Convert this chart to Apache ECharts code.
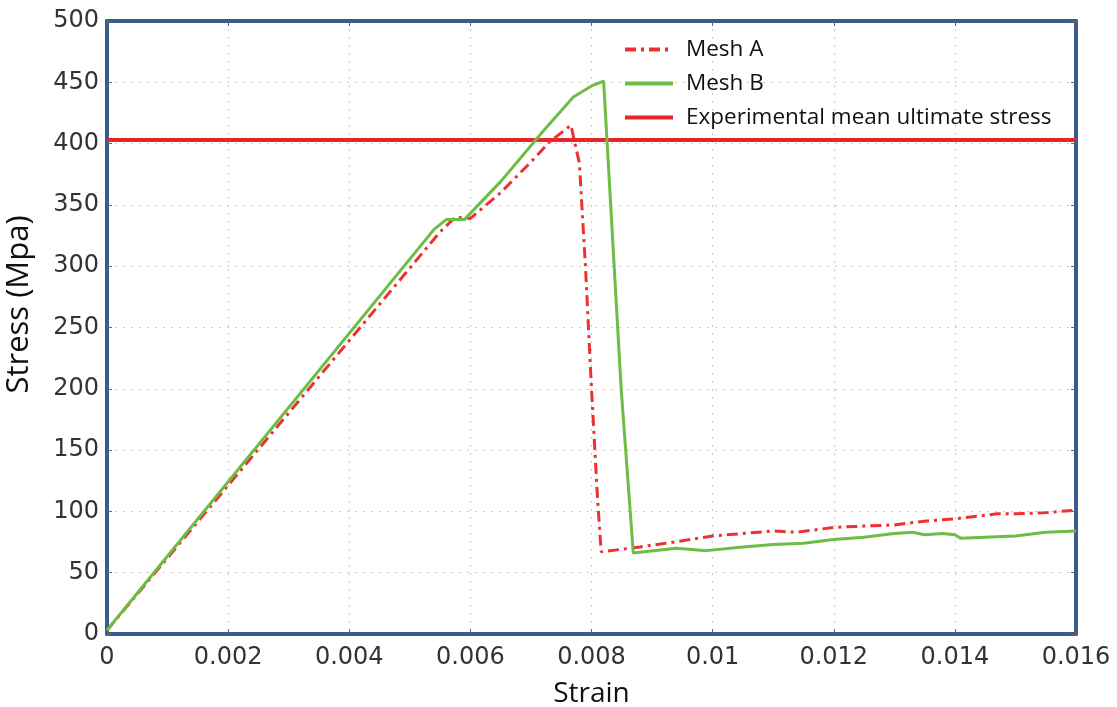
<!DOCTYPE html>
<html>
<head>
<meta charset="utf-8">
<title>Stress - Strain</title>
<script src="https://cdn.jsdelivr.net/npm/echarts@6/dist/echarts.min.js"></script>
<style>
  html, body { margin: 0; padding: 0; background: #fff; }
  #main { width: 1117px; height: 707px; }
</style>
</head>
<body>
<div id="main"></div>
<script>
// data
var strainA = [0, 0.0055, 0.00575, 0.006, 0.0065, 0.007, 0.0073, 0.00766, 0.0078, 0.0079, 0.008, 0.0081, 0.00816,
  0.0088, 0.0095, 0.01, 0.0105, 0.011, 0.0114, 0.012, 0.0125, 0.013, 0.0135, 0.014, 0.0147, 0.015, 0.0155, 0.016];
var stressA = [3, 328, 340, 339, 360, 385, 401, 415, 384, 300, 200, 110, 67,
  71, 76, 80, 82, 84, 83, 87, 88, 89, 92, 94, 98, 98, 99, 101];

var strainB = [0, 0.0054, 0.0056, 0.0059, 0.0065, 0.0072, 0.0077, 0.008, 0.0082, 0.00849, 0.00869,
  0.0094, 0.0099, 0.0105, 0.011, 0.0115, 0.012, 0.0125, 0.013, 0.0133, 0.0135, 0.0138, 0.014, 0.0141, 0.0145, 0.015, 0.0155, 0.016];
var stressB = [3, 330, 338, 338, 369, 410, 438, 447, 451, 200, 66,
  70, 68, 71, 73, 74, 77, 79, 82, 83, 81, 82, 81, 78, 79, 80, 83, 84];

var expStrain = [0, 0.016];
var expStress = [403, 403];

var xTicks = ['0', '0.002', '0.004', '0.006', '0.008', '0.01', '0.012', '0.014', '0.016'];

function pairs(xs, ys) {
  var out = [];
  for (var i = 0; i < xs.length; i++) out.push([xs[i], ys[i]]);
  return out;
}

var myChart = echarts.init(document.getElementById('main'));

var frameColor = '#3b5b8c';
var tickFont = { color: '#333', fontSize: 24, fontFamily: 'DejaVu Sans, sans-serif' };
var nameFont = { fontSize: 28, fontFamily: 'Open Sans, sans-serif', color: '#111' };
var grid = { color: '#c8c8c8', type: [2, 6] };

option = {
  animation: false,
  grid: { left: 107, right: 41, top: 21, bottom: 73, containLabel: false, outerBoundsMode: 'none' },
  legend: {
    orient: 'vertical',
    left: 618, top: 33,
    itemWidth: 48, itemHeight: 14, itemGap: 11,
    itemStyle: { opacity: 0 },
    lineStyle: { width: 4 },
    textStyle: { fontSize: 22.5, fontFamily: 'Open Sans, sans-serif', color: '#111', padding: [0, 0, 0, 8] },
    data: ['Mesh A', 'Mesh B', 'Experimental mean ultimate stress']
  },
  xAxis: [{
    type: 'value', min: 0, max: 0.016, interval: 0.002,
    name: 'Strain', nameLocation: 'middle', nameGap: 46,
    nameTextStyle: nameFont,
    axisLine: { show: true, onZero: false, lineStyle: { color: frameColor, width: 4 } },
    axisTick: { inside: true, length: 5, lineStyle: { color: '#666' } },
    axisLabel: Object.assign({ margin: 12, formatter: function (v) { return xTicks[Math.round(v / 0.002)]; } }, tickFont),
    splitLine: { show: true, showMinLine: false, showMaxLine: false, lineStyle: grid }
  }, {
    type: 'value', position: 'top', min: 0, max: 0.016, interval: 0.002,
    axisLine: { show: true, onZero: false, lineStyle: { color: frameColor, width: 4 } },
    axisTick: { inside: true, length: 5, lineStyle: { color: '#666' } },
    axisLabel: { show: false },
    splitLine: { show: false }
  }],
  yAxis: [{
    type: 'value', min: 0, max: 500, interval: 50,
    name: 'Stress (Mpa)', nameLocation: 'middle', nameGap: 72,
    nameTextStyle: Object.assign({}, nameFont, { fontSize: 31, padding: [0, 0, 0, 46] }),
    axisLine: { show: true, onZero: false, lineStyle: { color: frameColor, width: 4 } },
    axisTick: { inside: true, length: 5, lineStyle: { color: '#666' } },
    axisLabel: Object.assign({ margin: 8 }, tickFont),
    splitLine: { show: true, showMinLine: false, showMaxLine: false, lineStyle: grid }
  }, {
    type: 'value', position: 'right', min: 0, max: 500, interval: 50,
    axisLine: { show: true, onZero: false, lineStyle: { color: frameColor, width: 4 } },
    axisTick: { inside: true, length: 5, lineStyle: { color: '#666' } },
    axisLabel: { show: false },
    splitLine: { show: false }
  }],
  series: [
    {
      name: 'Mesh A', type: 'line', symbol: 'none', z: 3,
      data: pairs(strainA, stressA),
      lineStyle: { color: '#ee3030', width: 3, type: [11, 5, 3, 5] },
      itemStyle: { color: '#ee3030' }
    },
    {
      name: 'Mesh B', type: 'line', symbol: 'none', z: 4,
      data: pairs(strainB, stressB),
      lineStyle: { color: '#6dbd45', width: 3 },
      itemStyle: { color: '#6dbd45' }
    },
    {
      name: 'Experimental mean ultimate stress', type: 'line', symbol: 'none', z: 2,
      data: pairs(expStrain, expStress),
      lineStyle: { color: '#e8262a', width: 4 },
      itemStyle: { color: '#e8262a' }
    }
  ]
};

myChart.setOption(option);
</script>
</body>
</html>
